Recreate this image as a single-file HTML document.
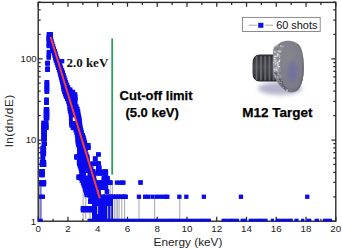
<!DOCTYPE html>
<html><head><meta charset="utf-8"><style>
html,body{margin:0;padding:0;background:#fff;width:342px;height:249px;overflow:hidden}
svg{display:block}
</style></head><body>
<svg width="342" height="249" viewBox="0 0 342 249">
<rect width="342" height="249" fill="#fff"/>
<!-- connecting lines -->
<path d="M85.7 193V219M108.2 185V199M110.2 185V199M112.3 185V199M114.3 199V219M116.1 199V219M117.7 199V219M119.1 199V219M121.8 199V219M124.6 199V219M139 199V219M154.7 199V219M179.8 199V219M102 177V181M83.1 190V219M39.6 186V219M90 212V219M98 205V219M106.5 205V219" stroke="#a4a4b4" stroke-width="1" fill="none"/>
<path d="M40.9 186V219" stroke="#4040d0" stroke-width="1.2" fill="none"/>
<clipPath id="pc"><rect x="38.2" y="2.4" width="297.60" height="218.80"/></clipPath>
<g fill="#0a0aee" clip-path="url(#pc)"><rect x="46.6" y="32.1" width="4.3" height="4.3"/><rect x="48.5" y="32.1" width="4.3" height="4.3"/><rect x="46.6" y="34.5" width="4.3" height="4.3"/><rect x="48.5" y="34.5" width="4.3" height="4.3"/><rect x="46.6" y="36.9" width="4.3" height="4.3"/><rect x="48.9" y="36.9" width="4.3" height="4.3"/><rect x="47.2" y="39.3" width="4.3" height="4.3"/><rect x="49.5" y="39.3" width="4.3" height="4.3"/><rect x="48.4" y="41.7" width="4.3" height="4.3"/><rect x="50.2" y="41.7" width="4.3" height="4.3"/><rect x="49.5" y="44.1" width="4.3" height="4.3"/><rect x="51.0" y="44.1" width="4.3" height="4.3"/><rect x="50.1" y="46.5" width="4.3" height="4.3"/><rect x="51.8" y="46.5" width="4.3" height="4.3"/><rect x="50.8" y="48.9" width="4.3" height="4.3"/><rect x="52.6" y="48.9" width="4.3" height="4.3"/><rect x="51.7" y="51.3" width="4.3" height="4.3"/><rect x="53.4" y="51.3" width="4.3" height="4.3"/><rect x="52.4" y="53.7" width="4.3" height="4.3"/><rect x="54.1" y="53.7" width="4.3" height="4.3"/><rect x="53.0" y="56.1" width="4.3" height="4.3"/><rect x="54.9" y="56.1" width="4.3" height="4.3"/><rect x="53.7" y="58.5" width="4.3" height="4.3"/><rect x="55.9" y="58.5" width="4.3" height="4.3"/><rect x="54.5" y="60.9" width="4.3" height="4.3"/><rect x="56.9" y="60.9" width="4.3" height="4.3"/><rect x="55.3" y="63.3" width="4.3" height="4.3"/><rect x="57.9" y="63.3" width="4.3" height="4.3"/><rect x="57.9" y="63.3" width="4.3" height="4.3"/><rect x="56.1" y="65.7" width="4.3" height="4.3"/><rect x="58.7" y="65.7" width="4.3" height="4.3"/><rect x="58.9" y="65.7" width="4.3" height="4.3"/><rect x="56.9" y="68.1" width="4.3" height="4.3"/><rect x="59.5" y="68.1" width="4.3" height="4.3"/><rect x="59.9" y="68.1" width="4.3" height="4.3"/><rect x="57.6" y="70.5" width="4.3" height="4.3"/><rect x="60.2" y="70.5" width="4.3" height="4.3"/><rect x="60.7" y="70.5" width="4.3" height="4.3"/><rect x="58.2" y="73.0" width="4.3" height="4.3"/><rect x="60.8" y="73.0" width="4.3" height="4.3"/><rect x="61.5" y="73.0" width="4.3" height="4.3"/><rect x="58.8" y="75.4" width="4.3" height="4.3"/><rect x="61.4" y="75.4" width="4.3" height="4.3"/><rect x="62.3" y="75.4" width="4.3" height="4.3"/><rect x="59.4" y="77.8" width="4.3" height="4.3"/><rect x="62.0" y="77.8" width="4.3" height="4.3"/><rect x="63.1" y="77.8" width="4.3" height="4.3"/><rect x="60.0" y="80.2" width="4.3" height="4.3"/><rect x="62.6" y="80.2" width="4.3" height="4.3"/><rect x="63.9" y="80.2" width="4.3" height="4.3"/><rect x="60.6" y="82.6" width="4.3" height="4.3"/><rect x="63.2" y="82.6" width="4.3" height="4.3"/><rect x="64.9" y="82.6" width="4.3" height="4.3"/><rect x="61.0" y="85.0" width="4.3" height="4.3"/><rect x="63.6" y="85.0" width="4.3" height="4.3"/><rect x="65.9" y="85.0" width="4.3" height="4.3"/><rect x="61.4" y="87.4" width="4.3" height="4.3"/><rect x="64.0" y="87.4" width="4.3" height="4.3"/><rect x="66.6" y="87.4" width="4.3" height="4.3"/><rect x="68.2" y="87.4" width="4.3" height="4.3"/><rect x="62.1" y="89.8" width="4.3" height="4.3"/><rect x="64.7" y="89.8" width="4.3" height="4.3"/><rect x="67.3" y="89.8" width="4.3" height="4.3"/><rect x="69.9" y="89.8" width="4.3" height="4.3"/><rect x="70.9" y="89.8" width="4.3" height="4.3"/><rect x="62.9" y="92.2" width="4.3" height="4.3"/><rect x="65.5" y="92.2" width="4.3" height="4.3"/><rect x="68.1" y="92.2" width="4.3" height="4.3"/><rect x="70.7" y="92.2" width="4.3" height="4.3"/><rect x="73.0" y="92.2" width="4.3" height="4.3"/><rect x="63.8" y="94.6" width="4.3" height="4.3"/><rect x="66.4" y="94.6" width="4.3" height="4.3"/><rect x="69.0" y="94.6" width="4.3" height="4.3"/><rect x="71.6" y="94.6" width="4.3" height="4.3"/><rect x="73.2" y="94.6" width="4.3" height="4.3"/><rect x="65.0" y="97.0" width="4.3" height="4.3"/><rect x="67.6" y="97.0" width="4.3" height="4.3"/><rect x="70.2" y="97.0" width="4.3" height="4.3"/><rect x="72.8" y="97.0" width="4.3" height="4.3"/><rect x="73.4" y="97.0" width="4.3" height="4.3"/><rect x="66.1" y="99.4" width="4.3" height="4.3"/><rect x="68.7" y="99.4" width="4.3" height="4.3"/><rect x="71.3" y="99.4" width="4.3" height="4.3"/><rect x="73.0" y="99.4" width="4.3" height="4.3"/><rect x="66.8" y="101.8" width="4.3" height="4.3"/><rect x="69.4" y="101.8" width="4.3" height="4.3"/><rect x="72.0" y="101.8" width="4.3" height="4.3"/><rect x="73.2" y="101.8" width="4.3" height="4.3"/><rect x="67.4" y="104.2" width="4.3" height="4.3"/><rect x="70.0" y="104.2" width="4.3" height="4.3"/><rect x="72.6" y="104.2" width="4.3" height="4.3"/><rect x="74.3" y="104.2" width="4.3" height="4.3"/><rect x="67.5" y="106.6" width="4.3" height="4.3"/><rect x="70.1" y="106.6" width="4.3" height="4.3"/><rect x="72.7" y="106.6" width="4.3" height="4.3"/><rect x="75.3" y="106.6" width="4.3" height="4.3"/><rect x="67.8" y="109.0" width="4.3" height="4.3"/><rect x="70.4" y="109.0" width="4.3" height="4.3"/><rect x="73.0" y="109.0" width="4.3" height="4.3"/><rect x="75.6" y="109.0" width="4.3" height="4.3"/><rect x="75.9" y="109.0" width="4.3" height="4.3"/><rect x="68.5" y="111.4" width="4.3" height="4.3"/><rect x="71.1" y="111.4" width="4.3" height="4.3"/><rect x="73.7" y="111.4" width="4.3" height="4.3"/><rect x="76.2" y="111.4" width="4.3" height="4.3"/><rect x="68.9" y="113.8" width="4.3" height="4.3"/><rect x="71.5" y="113.8" width="4.3" height="4.3"/><rect x="74.1" y="113.8" width="4.3" height="4.3"/><rect x="76.7" y="113.8" width="4.3" height="4.3"/><rect x="76.7" y="113.8" width="4.3" height="4.3"/><rect x="68.9" y="116.2" width="4.3" height="4.3"/><rect x="71.5" y="116.2" width="4.3" height="4.3"/><rect x="74.1" y="116.2" width="4.3" height="4.3"/><rect x="76.7" y="116.2" width="4.3" height="4.3"/><rect x="77.3" y="116.2" width="4.3" height="4.3"/><rect x="69.0" y="118.6" width="4.3" height="4.3"/><rect x="71.6" y="118.6" width="4.3" height="4.3"/><rect x="74.2" y="118.6" width="4.3" height="4.3"/><rect x="76.8" y="118.6" width="4.3" height="4.3"/><rect x="77.6" y="118.6" width="4.3" height="4.3"/><rect x="69.0" y="121.0" width="4.3" height="4.3"/><rect x="71.6" y="121.0" width="4.3" height="4.3"/><rect x="74.2" y="121.0" width="4.3" height="4.3"/><rect x="76.8" y="121.0" width="4.3" height="4.3"/><rect x="77.8" y="121.0" width="4.3" height="4.3"/><rect x="69.3" y="123.4" width="4.3" height="4.3"/><rect x="71.9" y="123.4" width="4.3" height="4.3"/><rect x="74.5" y="123.4" width="4.3" height="4.3"/><rect x="77.1" y="123.4" width="4.3" height="4.3"/><rect x="78.1" y="123.4" width="4.3" height="4.3"/><rect x="70.7" y="125.8" width="4.3" height="4.3"/><rect x="73.3" y="125.8" width="4.3" height="4.3"/><rect x="75.9" y="125.8" width="4.3" height="4.3"/><rect x="78.5" y="125.8" width="4.3" height="4.3"/><rect x="73.4" y="128.2" width="4.3" height="4.3"/><rect x="76.0" y="128.2" width="4.3" height="4.3"/><rect x="78.6" y="128.2" width="4.3" height="4.3"/><rect x="79.1" y="128.2" width="4.3" height="4.3"/><rect x="74.3" y="130.6" width="4.3" height="4.3"/><rect x="76.9" y="130.6" width="4.3" height="4.3"/><rect x="79.5" y="130.6" width="4.3" height="4.3"/><rect x="79.7" y="130.6" width="4.3" height="4.3"/><rect x="74.8" y="133.0" width="4.3" height="4.3"/><rect x="77.4" y="133.0" width="4.3" height="4.3"/><rect x="80.0" y="133.0" width="4.3" height="4.3"/><rect x="80.7" y="133.0" width="4.3" height="4.3"/><rect x="75.2" y="135.4" width="4.3" height="4.3"/><rect x="77.8" y="135.4" width="4.3" height="4.3"/><rect x="80.4" y="135.4" width="4.3" height="4.3"/><rect x="81.6" y="135.4" width="4.3" height="4.3"/><rect x="75.4" y="137.8" width="4.3" height="4.3"/><rect x="78.0" y="137.8" width="4.3" height="4.3"/><rect x="80.6" y="137.8" width="4.3" height="4.3"/><rect x="82.2" y="137.8" width="4.3" height="4.3"/><rect x="75.5" y="140.2" width="4.3" height="4.3"/><rect x="78.1" y="140.2" width="4.3" height="4.3"/><rect x="80.7" y="140.2" width="4.3" height="4.3"/><rect x="82.8" y="140.2" width="4.3" height="4.3"/><rect x="76.0" y="142.6" width="4.3" height="4.3"/><rect x="78.6" y="142.6" width="4.3" height="4.3"/><rect x="81.2" y="142.6" width="4.3" height="4.3"/><rect x="83.3" y="142.6" width="4.3" height="4.3"/><rect x="76.8" y="145.0" width="4.3" height="4.3"/><rect x="79.4" y="145.0" width="4.3" height="4.3"/><rect x="82.0" y="145.0" width="4.3" height="4.3"/><rect x="83.7" y="145.0" width="4.3" height="4.3"/><rect x="77.1" y="147.4" width="4.3" height="4.3"/><rect x="79.7" y="147.4" width="4.3" height="4.3"/><rect x="82.3" y="147.4" width="4.3" height="4.3"/><rect x="83.4" y="147.4" width="4.3" height="4.3"/><rect x="77.1" y="149.8" width="4.3" height="4.3"/><rect x="79.7" y="149.8" width="4.3" height="4.3"/><rect x="82.3" y="149.8" width="4.3" height="4.3"/><rect x="83.2" y="149.8" width="4.3" height="4.3"/><rect x="77.0" y="152.2" width="4.3" height="4.3"/><rect x="79.6" y="152.2" width="4.3" height="4.3"/><rect x="82.2" y="152.2" width="4.3" height="4.3"/><rect x="84.2" y="152.2" width="4.3" height="4.3"/><rect x="77.1" y="154.6" width="4.3" height="4.3"/><rect x="79.7" y="154.6" width="4.3" height="4.3"/><rect x="82.3" y="154.6" width="4.3" height="4.3"/><rect x="84.9" y="154.6" width="4.3" height="4.3"/><rect x="85.2" y="154.6" width="4.3" height="4.3"/><rect x="77.1" y="157.0" width="4.3" height="4.3"/><rect x="79.7" y="157.0" width="4.3" height="4.3"/><rect x="82.3" y="157.0" width="4.3" height="4.3"/><rect x="84.9" y="157.0" width="4.3" height="4.3"/><rect x="85.4" y="157.0" width="4.3" height="4.3"/><rect x="76.8" y="159.4" width="4.3" height="4.3"/><rect x="79.4" y="159.4" width="4.3" height="4.3"/><rect x="82.0" y="159.4" width="4.3" height="4.3"/><rect x="84.6" y="159.4" width="4.3" height="4.3"/><rect x="85.7" y="159.4" width="4.3" height="4.3"/><rect x="76.9" y="161.8" width="4.3" height="4.3"/><rect x="79.5" y="161.8" width="4.3" height="4.3"/><rect x="82.1" y="161.8" width="4.3" height="4.3"/><rect x="84.7" y="161.8" width="4.3" height="4.3"/><rect x="86.5" y="161.8" width="4.3" height="4.3"/><rect x="77.7" y="164.2" width="4.3" height="4.3"/><rect x="80.3" y="164.2" width="4.3" height="4.3"/><rect x="82.9" y="164.2" width="4.3" height="4.3"/><rect x="85.5" y="164.2" width="4.3" height="4.3"/><rect x="87.5" y="164.2" width="4.3" height="4.3"/><rect x="78.5" y="166.6" width="4.3" height="4.3"/><rect x="81.1" y="166.6" width="4.3" height="4.3"/><rect x="83.7" y="166.6" width="4.3" height="4.3"/><rect x="86.3" y="166.6" width="4.3" height="4.3"/><rect x="88.9" y="166.6" width="4.3" height="4.3"/><rect x="89.0" y="166.6" width="4.3" height="4.3"/><rect x="79.1" y="169.0" width="4.3" height="4.3"/><rect x="81.7" y="169.0" width="4.3" height="4.3"/><rect x="84.3" y="169.0" width="4.3" height="4.3"/><rect x="86.9" y="169.0" width="4.3" height="4.3"/><rect x="89.5" y="169.0" width="4.3" height="4.3"/><rect x="90.7" y="169.0" width="4.3" height="4.3"/><rect x="79.5" y="171.4" width="4.3" height="4.3"/><rect x="82.1" y="171.4" width="4.3" height="4.3"/><rect x="84.7" y="171.4" width="4.3" height="4.3"/><rect x="87.3" y="171.4" width="4.3" height="4.3"/><rect x="89.9" y="171.4" width="4.3" height="4.3"/><rect x="91.4" y="171.4" width="4.3" height="4.3"/><rect x="79.0" y="173.8" width="4.3" height="4.3"/><rect x="81.6" y="173.8" width="4.3" height="4.3"/><rect x="84.2" y="173.8" width="4.3" height="4.3"/><rect x="86.8" y="173.8" width="4.3" height="4.3"/><rect x="89.4" y="173.8" width="4.3" height="4.3"/><rect x="91.6" y="173.8" width="4.3" height="4.3"/><rect x="78.4" y="176.2" width="4.3" height="4.3"/><rect x="81.0" y="176.2" width="4.3" height="4.3"/><rect x="83.6" y="176.2" width="4.3" height="4.3"/><rect x="86.2" y="176.2" width="4.3" height="4.3"/><rect x="88.8" y="176.2" width="4.3" height="4.3"/><rect x="91.4" y="176.2" width="4.3" height="4.3"/><rect x="92.0" y="176.2" width="4.3" height="4.3"/><rect x="79.6" y="178.6" width="4.3" height="4.3"/><rect x="82.2" y="178.6" width="4.3" height="4.3"/><rect x="84.8" y="178.6" width="4.3" height="4.3"/><rect x="87.4" y="178.6" width="4.3" height="4.3"/><rect x="90.0" y="178.6" width="4.3" height="4.3"/><rect x="92.5" y="178.6" width="4.3" height="4.3"/><rect x="80.8" y="181.0" width="4.3" height="4.3"/><rect x="83.4" y="181.0" width="4.3" height="4.3"/><rect x="86.0" y="181.0" width="4.3" height="4.3"/><rect x="88.6" y="181.0" width="4.3" height="4.3"/><rect x="91.2" y="181.0" width="4.3" height="4.3"/><rect x="93.4" y="181.0" width="4.3" height="4.3"/><rect x="81.6" y="183.4" width="4.3" height="4.3"/><rect x="84.2" y="183.4" width="4.3" height="4.3"/><rect x="86.8" y="183.4" width="4.3" height="4.3"/><rect x="89.4" y="183.4" width="4.3" height="4.3"/><rect x="92.0" y="183.4" width="4.3" height="4.3"/><rect x="94.6" y="183.4" width="4.3" height="4.3"/><rect x="82.5" y="185.8" width="4.3" height="4.3"/><rect x="85.1" y="185.8" width="4.3" height="4.3"/><rect x="87.7" y="185.8" width="4.3" height="4.3"/><rect x="90.3" y="185.8" width="4.3" height="4.3"/><rect x="92.9" y="185.8" width="4.3" height="4.3"/><rect x="95.4" y="185.8" width="4.3" height="4.3"/><rect x="83.2" y="188.2" width="4.3" height="4.3"/><rect x="85.8" y="188.2" width="4.3" height="4.3"/><rect x="88.4" y="188.2" width="4.3" height="4.3"/><rect x="91.0" y="188.2" width="4.3" height="4.3"/><rect x="93.6" y="188.2" width="4.3" height="4.3"/><rect x="95.9" y="188.2" width="4.3" height="4.3"/><rect x="84.0" y="190.6" width="4.3" height="4.3"/><rect x="86.6" y="190.6" width="4.3" height="4.3"/><rect x="89.2" y="190.6" width="4.3" height="4.3"/><rect x="91.8" y="190.6" width="4.3" height="4.3"/><rect x="94.4" y="190.6" width="4.3" height="4.3"/><rect x="96.2" y="190.6" width="4.3" height="4.3"/><rect x="84.4" y="193.0" width="4.3" height="4.3"/><rect x="87.0" y="193.0" width="4.3" height="4.3"/><rect x="89.6" y="193.0" width="4.3" height="4.3"/><rect x="92.2" y="193.0" width="4.3" height="4.3"/><rect x="94.8" y="193.0" width="4.3" height="4.3"/><rect x="96.2" y="193.0" width="4.3" height="4.3"/><rect x="47.1" y="32.1" width="4.3" height="4.3"/><rect x="48.6" y="32.1" width="4.3" height="4.3"/><rect x="46.6" y="36.0" width="4.3" height="4.3"/><rect x="46.6" y="38.4" width="4.3" height="4.3"/><rect x="46.6" y="40.8" width="4.3" height="4.3"/><rect x="46.6" y="43.2" width="4.3" height="4.3"/><rect x="46.6" y="43.9" width="4.3" height="4.3"/><rect x="46.6" y="49.8" width="4.3" height="4.3"/><rect x="46.6" y="52.2" width="4.3" height="4.3"/><rect x="46.6" y="54.6" width="4.3" height="4.3"/><rect x="46.6" y="55.5" width="4.3" height="4.3"/><rect x="45.2" y="60.8" width="4.3" height="4.3"/><rect x="45.2" y="61.3" width="4.3" height="4.3"/><rect x="45.7" y="60.8" width="4.3" height="4.3"/><rect x="45.7" y="61.3" width="4.3" height="4.3"/><rect x="45.2" y="66.5" width="4.3" height="4.3"/><rect x="45.2" y="67.7" width="4.3" height="4.3"/><rect x="45.7" y="66.5" width="4.3" height="4.3"/><rect x="45.7" y="67.7" width="4.3" height="4.3"/><rect x="44.4" y="80.0" width="4.3" height="4.3"/><rect x="44.4" y="82.4" width="4.3" height="4.3"/><rect x="44.4" y="84.8" width="4.3" height="4.3"/><rect x="44.4" y="87.2" width="4.3" height="4.3"/><rect x="44.4" y="89.5" width="4.3" height="4.3"/><rect x="45.0" y="80.0" width="4.3" height="4.3"/><rect x="45.0" y="82.4" width="4.3" height="4.3"/><rect x="45.0" y="84.8" width="4.3" height="4.3"/><rect x="45.0" y="87.2" width="4.3" height="4.3"/><rect x="45.0" y="89.5" width="4.3" height="4.3"/><rect x="44.2" y="97.6" width="4.3" height="4.3"/><rect x="44.2" y="100.0" width="4.3" height="4.3"/><rect x="44.2" y="100.6" width="4.3" height="4.3"/><rect x="44.6" y="97.6" width="4.3" height="4.3"/><rect x="44.6" y="100.0" width="4.3" height="4.3"/><rect x="44.6" y="100.6" width="4.3" height="4.3"/><rect x="43.7" y="107.0" width="4.3" height="4.3"/><rect x="43.7" y="109.4" width="4.3" height="4.3"/><rect x="43.7" y="111.8" width="4.3" height="4.3"/><rect x="43.7" y="114.2" width="4.3" height="4.3"/><rect x="43.7" y="116.3" width="4.3" height="4.3"/><rect x="45.0" y="107.0" width="4.3" height="4.3"/><rect x="45.0" y="109.4" width="4.3" height="4.3"/><rect x="45.0" y="111.8" width="4.3" height="4.3"/><rect x="45.0" y="114.2" width="4.3" height="4.3"/><rect x="45.0" y="116.3" width="4.3" height="4.3"/><rect x="41.2" y="120.6" width="4.3" height="4.3"/><rect x="41.2" y="123.0" width="4.3" height="4.3"/><rect x="41.2" y="125.4" width="4.3" height="4.3"/><rect x="41.2" y="125.7" width="4.3" height="4.3"/><rect x="43.8" y="120.6" width="4.3" height="4.3"/><rect x="43.8" y="123.0" width="4.3" height="4.3"/><rect x="43.8" y="125.4" width="4.3" height="4.3"/><rect x="43.8" y="125.7" width="4.3" height="4.3"/><rect x="44.2" y="120.6" width="4.3" height="4.3"/><rect x="44.2" y="123.0" width="4.3" height="4.3"/><rect x="44.2" y="125.4" width="4.3" height="4.3"/><rect x="44.2" y="125.7" width="4.3" height="4.3"/><rect x="41.2" y="128.0" width="4.3" height="4.3"/><rect x="41.2" y="130.4" width="4.3" height="4.3"/><rect x="41.2" y="132.8" width="4.3" height="4.3"/><rect x="41.2" y="135.2" width="4.3" height="4.3"/><rect x="41.2" y="137.4" width="4.3" height="4.3"/><rect x="42.6" y="128.0" width="4.3" height="4.3"/><rect x="42.6" y="130.4" width="4.3" height="4.3"/><rect x="42.6" y="132.8" width="4.3" height="4.3"/><rect x="42.6" y="135.2" width="4.3" height="4.3"/><rect x="42.6" y="137.4" width="4.3" height="4.3"/><rect x="41.5" y="141.7" width="4.3" height="4.3"/><rect x="42.7" y="141.7" width="4.3" height="4.3"/><rect x="40.4" y="145.7" width="4.3" height="4.3"/><rect x="40.4" y="148.1" width="4.3" height="4.3"/><rect x="40.4" y="150.5" width="4.3" height="4.3"/><rect x="40.4" y="151.9" width="4.3" height="4.3"/><rect x="41.8" y="145.7" width="4.3" height="4.3"/><rect x="41.8" y="148.1" width="4.3" height="4.3"/><rect x="41.8" y="150.5" width="4.3" height="4.3"/><rect x="41.8" y="151.9" width="4.3" height="4.3"/><rect x="40.4" y="155.9" width="4.3" height="4.3"/><rect x="41.0" y="155.9" width="4.3" height="4.3"/><rect x="39.8" y="160.0" width="4.3" height="4.3"/><rect x="39.8" y="162.4" width="4.3" height="4.3"/><rect x="39.8" y="162.7" width="4.3" height="4.3"/><rect x="41.9" y="160.0" width="4.3" height="4.3"/><rect x="41.9" y="162.4" width="4.3" height="4.3"/><rect x="41.9" y="162.7" width="4.3" height="4.3"/><rect x="39.1" y="169.0" width="4.3" height="4.3"/><rect x="39.1" y="171.4" width="4.3" height="4.3"/><rect x="39.1" y="173.0" width="4.3" height="4.3"/><rect x="40.6" y="169.0" width="4.3" height="4.3"/><rect x="40.6" y="171.4" width="4.3" height="4.3"/><rect x="40.6" y="173.0" width="4.3" height="4.3"/><rect x="39.1" y="180.0" width="4.3" height="4.3"/><rect x="39.1" y="182.0" width="4.3" height="4.3"/><rect x="41.7" y="180.0" width="4.3" height="4.3"/><rect x="41.7" y="182.0" width="4.3" height="4.3"/><rect x="41.9" y="180.0" width="4.3" height="4.3"/><rect x="41.9" y="182.0" width="4.3" height="4.3"/><rect x="38.8" y="194.6" width="4.3" height="4.3"/><rect x="40.7" y="194.6" width="4.3" height="4.3"/><rect x="86.3" y="143.0" width="4.3" height="4.3"/><rect x="86.3" y="145.4" width="4.3" height="4.3"/><rect x="86.3" y="145.7" width="4.3" height="4.3"/><rect x="96.0" y="152.3" width="4.3" height="4.3"/><rect x="96.6" y="152.3" width="4.3" height="4.3"/><rect x="92.9" y="156.6" width="4.3" height="4.3"/><rect x="92.9" y="156.7" width="4.3" height="4.3"/><rect x="93.2" y="156.6" width="4.3" height="4.3"/><rect x="93.2" y="156.7" width="4.3" height="4.3"/><rect x="90.4" y="161.3" width="4.3" height="4.3"/><rect x="90.4" y="161.8" width="4.3" height="4.3"/><rect x="93.0" y="161.3" width="4.3" height="4.3"/><rect x="93.0" y="161.8" width="4.3" height="4.3"/><rect x="95.6" y="161.3" width="4.3" height="4.3"/><rect x="95.6" y="161.8" width="4.3" height="4.3"/><rect x="96.6" y="161.3" width="4.3" height="4.3"/><rect x="96.6" y="161.8" width="4.3" height="4.3"/><rect x="96.0" y="165.5" width="4.3" height="4.3"/><rect x="97.4" y="165.5" width="4.3" height="4.3"/><rect x="95.3" y="169.3" width="4.3" height="4.3"/><rect x="95.3" y="171.5" width="4.3" height="4.3"/><rect x="97.9" y="169.3" width="4.3" height="4.3"/><rect x="97.9" y="171.5" width="4.3" height="4.3"/><rect x="100.5" y="169.3" width="4.3" height="4.3"/><rect x="100.5" y="171.5" width="4.3" height="4.3"/><rect x="103.1" y="169.3" width="4.3" height="4.3"/><rect x="103.1" y="171.5" width="4.3" height="4.3"/><rect x="103.8" y="169.3" width="4.3" height="4.3"/><rect x="103.8" y="171.5" width="4.3" height="4.3"/><rect x="101.7" y="175.8" width="4.3" height="4.3"/><rect x="101.7" y="176.3" width="4.3" height="4.3"/><rect x="104.3" y="175.8" width="4.3" height="4.3"/><rect x="104.3" y="176.3" width="4.3" height="4.3"/><rect x="105.4" y="175.8" width="4.3" height="4.3"/><rect x="105.4" y="176.3" width="4.3" height="4.3"/><rect x="96.2" y="180.2" width="4.3" height="4.3"/><rect x="96.2" y="180.7" width="4.3" height="4.3"/><rect x="98.8" y="180.2" width="4.3" height="4.3"/><rect x="98.8" y="180.7" width="4.3" height="4.3"/><rect x="101.4" y="180.2" width="4.3" height="4.3"/><rect x="101.4" y="180.7" width="4.3" height="4.3"/><rect x="104.0" y="180.2" width="4.3" height="4.3"/><rect x="104.0" y="180.7" width="4.3" height="4.3"/><rect x="106.6" y="180.2" width="4.3" height="4.3"/><rect x="106.6" y="180.7" width="4.3" height="4.3"/><rect x="108.3" y="180.2" width="4.3" height="4.3"/><rect x="108.3" y="180.7" width="4.3" height="4.3"/><rect x="114.8" y="180.5" width="4.3" height="4.3"/><rect x="117.4" y="180.5" width="4.3" height="4.3"/><rect x="120.0" y="180.5" width="4.3" height="4.3"/><rect x="121.3" y="180.5" width="4.3" height="4.3"/><rect x="96.2" y="185.0" width="4.3" height="4.3"/><rect x="96.2" y="185.2" width="4.3" height="4.3"/><rect x="96.4" y="185.0" width="4.3" height="4.3"/><rect x="96.4" y="185.2" width="4.3" height="4.3"/><rect x="104.7" y="189.4" width="4.3" height="4.3"/><rect x="104.9" y="189.4" width="4.3" height="4.3"/><rect x="94.0" y="189.5" width="4.3" height="4.3"/><rect x="94.0" y="191.9" width="4.3" height="4.3"/><rect x="94.0" y="194.2" width="4.3" height="4.3"/><rect x="96.4" y="189.5" width="4.3" height="4.3"/><rect x="96.4" y="191.9" width="4.3" height="4.3"/><rect x="96.4" y="194.2" width="4.3" height="4.3"/><rect x="100.7" y="194.6" width="4.3" height="4.3"/><rect x="100.7" y="194.7" width="4.3" height="4.3"/><rect x="103.3" y="194.6" width="4.3" height="4.3"/><rect x="103.3" y="194.7" width="4.3" height="4.3"/><rect x="105.9" y="194.6" width="4.3" height="4.3"/><rect x="105.9" y="194.7" width="4.3" height="4.3"/><rect x="108.5" y="194.6" width="4.3" height="4.3"/><rect x="108.5" y="194.7" width="4.3" height="4.3"/><rect x="111.1" y="194.6" width="4.3" height="4.3"/><rect x="111.1" y="194.7" width="4.3" height="4.3"/><rect x="113.7" y="194.6" width="4.3" height="4.3"/><rect x="113.7" y="194.7" width="4.3" height="4.3"/><rect x="116.3" y="194.6" width="4.3" height="4.3"/><rect x="116.3" y="194.7" width="4.3" height="4.3"/><rect x="118.9" y="194.6" width="4.3" height="4.3"/><rect x="118.9" y="194.7" width="4.3" height="4.3"/><rect x="121.5" y="194.6" width="4.3" height="4.3"/><rect x="121.5" y="194.7" width="4.3" height="4.3"/><rect x="123.4" y="194.6" width="4.3" height="4.3"/><rect x="123.4" y="194.7" width="4.3" height="4.3"/><rect x="92.0" y="196.0" width="4.3" height="4.3"/><rect x="92.0" y="198.4" width="4.3" height="4.3"/><rect x="92.0" y="200.8" width="4.3" height="4.3"/><rect x="92.0" y="203.2" width="4.3" height="4.3"/><rect x="92.0" y="205.6" width="4.3" height="4.3"/><rect x="92.0" y="208.0" width="4.3" height="4.3"/><rect x="92.0" y="210.4" width="4.3" height="4.3"/><rect x="92.0" y="212.8" width="4.3" height="4.3"/><rect x="92.0" y="215.2" width="4.3" height="4.3"/><rect x="94.6" y="196.0" width="4.3" height="4.3"/><rect x="94.6" y="198.4" width="4.3" height="4.3"/><rect x="94.6" y="200.8" width="4.3" height="4.3"/><rect x="94.6" y="203.2" width="4.3" height="4.3"/><rect x="94.6" y="205.6" width="4.3" height="4.3"/><rect x="94.6" y="208.0" width="4.3" height="4.3"/><rect x="94.6" y="210.4" width="4.3" height="4.3"/><rect x="94.6" y="212.8" width="4.3" height="4.3"/><rect x="94.6" y="215.2" width="4.3" height="4.3"/><rect x="97.2" y="196.0" width="4.3" height="4.3"/><rect x="97.2" y="198.4" width="4.3" height="4.3"/><rect x="97.2" y="200.8" width="4.3" height="4.3"/><rect x="97.2" y="203.2" width="4.3" height="4.3"/><rect x="97.2" y="205.6" width="4.3" height="4.3"/><rect x="97.2" y="208.0" width="4.3" height="4.3"/><rect x="97.2" y="210.4" width="4.3" height="4.3"/><rect x="97.2" y="212.8" width="4.3" height="4.3"/><rect x="97.2" y="215.2" width="4.3" height="4.3"/><rect x="99.8" y="196.0" width="4.3" height="4.3"/><rect x="99.8" y="198.4" width="4.3" height="4.3"/><rect x="99.8" y="200.8" width="4.3" height="4.3"/><rect x="99.8" y="203.2" width="4.3" height="4.3"/><rect x="99.8" y="205.6" width="4.3" height="4.3"/><rect x="99.8" y="208.0" width="4.3" height="4.3"/><rect x="99.8" y="210.4" width="4.3" height="4.3"/><rect x="99.8" y="212.8" width="4.3" height="4.3"/><rect x="99.8" y="215.2" width="4.3" height="4.3"/><rect x="102.4" y="196.0" width="4.3" height="4.3"/><rect x="102.4" y="198.4" width="4.3" height="4.3"/><rect x="102.4" y="200.8" width="4.3" height="4.3"/><rect x="102.4" y="203.2" width="4.3" height="4.3"/><rect x="102.4" y="205.6" width="4.3" height="4.3"/><rect x="102.4" y="208.0" width="4.3" height="4.3"/><rect x="102.4" y="210.4" width="4.3" height="4.3"/><rect x="102.4" y="212.8" width="4.3" height="4.3"/><rect x="102.4" y="215.2" width="4.3" height="4.3"/><rect x="105.0" y="196.0" width="4.3" height="4.3"/><rect x="105.0" y="198.4" width="4.3" height="4.3"/><rect x="105.0" y="200.8" width="4.3" height="4.3"/><rect x="105.0" y="203.2" width="4.3" height="4.3"/><rect x="105.0" y="205.6" width="4.3" height="4.3"/><rect x="105.0" y="208.0" width="4.3" height="4.3"/><rect x="105.0" y="210.4" width="4.3" height="4.3"/><rect x="105.0" y="212.8" width="4.3" height="4.3"/><rect x="105.0" y="215.2" width="4.3" height="4.3"/><rect x="107.6" y="196.0" width="4.3" height="4.3"/><rect x="107.6" y="198.4" width="4.3" height="4.3"/><rect x="107.6" y="200.8" width="4.3" height="4.3"/><rect x="107.6" y="203.2" width="4.3" height="4.3"/><rect x="107.6" y="205.6" width="4.3" height="4.3"/><rect x="107.6" y="208.0" width="4.3" height="4.3"/><rect x="107.6" y="210.4" width="4.3" height="4.3"/><rect x="107.6" y="212.8" width="4.3" height="4.3"/><rect x="107.6" y="215.2" width="4.3" height="4.3"/><rect x="108.7" y="196.0" width="4.3" height="4.3"/><rect x="108.7" y="198.4" width="4.3" height="4.3"/><rect x="108.7" y="200.8" width="4.3" height="4.3"/><rect x="108.7" y="203.2" width="4.3" height="4.3"/><rect x="108.7" y="205.6" width="4.3" height="4.3"/><rect x="108.7" y="208.0" width="4.3" height="4.3"/><rect x="108.7" y="210.4" width="4.3" height="4.3"/><rect x="108.7" y="212.8" width="4.3" height="4.3"/><rect x="108.7" y="215.2" width="4.3" height="4.3"/><rect x="88.2" y="197.0" width="4.3" height="4.3"/><rect x="88.2" y="199.4" width="4.3" height="4.3"/><rect x="88.2" y="199.7" width="4.3" height="4.3"/><rect x="90.7" y="197.0" width="4.3" height="4.3"/><rect x="90.7" y="199.4" width="4.3" height="4.3"/><rect x="90.7" y="199.7" width="4.3" height="4.3"/><rect x="80.7" y="206.0" width="4.3" height="4.3"/><rect x="80.7" y="208.1" width="4.3" height="4.3"/><rect x="83.3" y="206.0" width="4.3" height="4.3"/><rect x="83.3" y="208.1" width="4.3" height="4.3"/><rect x="85.9" y="206.0" width="4.3" height="4.3"/><rect x="85.9" y="208.1" width="4.3" height="4.3"/><rect x="88.5" y="206.0" width="4.3" height="4.3"/><rect x="88.5" y="208.1" width="4.3" height="4.3"/><rect x="91.1" y="206.0" width="4.3" height="4.3"/><rect x="91.1" y="208.1" width="4.3" height="4.3"/><rect x="92.2" y="206.0" width="4.3" height="4.3"/><rect x="92.2" y="208.1" width="4.3" height="4.3"/><rect x="99.0" y="185.0" width="4.3" height="4.3"/><rect x="99.0" y="185.7" width="4.3" height="4.3"/><rect x="101.6" y="185.0" width="4.3" height="4.3"/><rect x="101.6" y="185.7" width="4.3" height="4.3"/><rect x="103.7" y="185.0" width="4.3" height="4.3"/><rect x="103.7" y="185.7" width="4.3" height="4.3"/><rect x="74.2" y="154.3" width="4.3" height="4.3"/><rect x="74.2" y="155.4" width="4.3" height="4.3"/><rect x="75.3" y="154.3" width="4.3" height="4.3"/><rect x="75.3" y="155.4" width="4.3" height="4.3"/><rect x="76.6" y="174.5" width="4.3" height="4.3"/><rect x="76.6" y="175.7" width="4.3" height="4.3"/><rect x="76.7" y="174.5" width="4.3" height="4.3"/><rect x="76.7" y="175.7" width="4.3" height="4.3"/><rect x="60.0" y="59.0" width="4.3" height="4.3"/><rect x="138.4" y="180.3" width="4.3" height="4.3"/><rect x="138.4" y="180.4" width="4.3" height="4.3"/><rect x="136.8" y="194.6" width="4.3" height="4.3"/><rect x="143.0" y="194.6" width="4.3" height="4.3"/><rect x="146.0" y="194.6" width="4.3" height="4.3"/><rect x="150.4" y="194.6" width="4.3" height="4.3"/><rect x="154.7" y="194.6" width="4.3" height="4.3"/><rect x="159.0" y="194.6" width="4.3" height="4.3"/><rect x="162.8" y="194.6" width="4.3" height="4.3"/><rect x="165.2" y="194.6" width="4.3" height="4.3"/><rect x="177.2" y="194.6" width="4.3" height="4.3"/><rect x="184.2" y="194.6" width="4.3" height="4.3"/><rect x="201.7" y="194.6" width="4.3" height="4.3"/><rect x="238.8" y="194.6" width="4.3" height="4.3"/><rect x="305.1" y="194.6" width="4.3" height="4.3"/></g>
<g fill="#fff"><rect x="72.8" y="117.4" width="2.6" height="3.6"/><rect x="86" y="173" width="1.5" height="2.5"/></g>
<path d="M97.6 206V214M107.7 206V219M110.8 206V219M86 197V204M98 190V194" stroke="#c4c4d4" stroke-width="1" fill="none"/>
<!-- red fit line -->
<line x1="50.6" y1="37" x2="99.8" y2="198.4" stroke="#ff4028" stroke-width="1.9"/>
<!-- green cutoff -->
<line x1="112.2" y1="38.4" x2="112.2" y2="174.6" stroke="#2f9d5f" stroke-width="1.8"/>
<!-- axes -->
<rect x="38.2" y="2.4" width="297.60" height="218.80" fill="none" stroke="#2a2a2e" stroke-width="1.4"/>
<path d="M38.20 221.20v-4.4M38.20 2.40v4.4M53.08 221.20v-2.5M53.08 2.40v2.5M67.96 221.20v-4.4M67.96 2.40v4.4M82.84 221.20v-2.5M82.84 2.40v2.5M97.72 221.20v-4.4M97.72 2.40v4.4M112.60 221.20v-2.5M112.60 2.40v2.5M127.48 221.20v-4.4M127.48 2.40v4.4M142.36 221.20v-2.5M142.36 2.40v2.5M157.24 221.20v-4.4M157.24 2.40v4.4M172.12 221.20v-2.5M172.12 2.40v2.5M187.00 221.20v-4.4M187.00 2.40v4.4M201.88 221.20v-2.5M201.88 2.40v2.5M216.76 221.20v-4.4M216.76 2.40v4.4M231.64 221.20v-2.5M231.64 2.40v2.5M246.52 221.20v-4.4M246.52 2.40v4.4M261.40 221.20v-2.5M261.40 2.40v2.5M276.28 221.20v-4.4M276.28 2.40v4.4M291.16 221.20v-2.5M291.16 2.40v2.5M306.04 221.20v-4.4M306.04 2.40v4.4M320.92 221.20v-2.5M320.92 2.40v2.5M335.80 221.20v-4.4M335.80 2.40v4.4M38.20 221.20h4.4M335.80 221.20h-4.4M38.20 196.76h2.5M335.80 196.76h-2.5M38.20 182.46h2.5M335.80 182.46h-2.5M38.20 172.31h2.5M335.80 172.31h-2.5M38.20 164.44h2.5M335.80 164.44h-2.5M38.20 158.01h2.5M335.80 158.01h-2.5M38.20 152.58h2.5M335.80 152.58h-2.5M38.20 147.87h2.5M335.80 147.87h-2.5M38.20 143.72h2.5M335.80 143.72h-2.5M38.20 140.00h4.4M335.80 140.00h-4.4M38.20 115.56h2.5M335.80 115.56h-2.5M38.20 101.26h2.5M335.80 101.26h-2.5M38.20 91.11h2.5M335.80 91.11h-2.5M38.20 83.24h2.5M335.80 83.24h-2.5M38.20 76.81h2.5M335.80 76.81h-2.5M38.20 71.38h2.5M335.80 71.38h-2.5M38.20 66.67h2.5M335.80 66.67h-2.5M38.20 62.52h2.5M335.80 62.52h-2.5M38.20 58.80h4.4M335.80 58.80h-4.4M38.20 34.36h2.5M335.80 34.36h-2.5M38.20 20.06h2.5M335.80 20.06h-2.5M38.20 9.91h2.5M335.80 9.91h-2.5M38.20 2.04h2.5M335.80 2.04h-2.5" stroke="#2a2a2e" stroke-width="1.25" fill="none"/>
<g fill="#0a0aee"><rect x="38.2" y="218.7" width="4.6" height="2.8"/><rect x="87.5" y="218.7" width="123.5" height="2.8"/><rect x="221.5" y="218.7" width="17.5" height="2.8"/><rect x="240.6" y="218.7" width="6.4" height="2.8"/><rect x="248.6" y="218.7" width="19.0" height="2.8"/><rect x="270.8" y="218.7" width="3.2" height="2.8"/><rect x="275.6" y="218.7" width="17.2" height="2.8"/><rect x="294.4" y="218.7" width="4.2" height="2.8"/><rect x="301.0" y="218.7" width="3.4" height="2.8"/><rect x="306.4" y="218.7" width="4.9" height="2.8"/><rect x="314.6" y="218.7" width="4.4" height="2.8"/><rect x="322.8" y="218.7" width="9.2" height="2.8"/></g>
<g font-family="Liberation Sans" font-size="9.8" fill="#1a1a1a" text-anchor="middle"><text x="38.2" y="231.5">0</text><text x="68.0" y="231.5">2</text><text x="97.7" y="231.5">4</text><text x="127.5" y="231.5">6</text><text x="157.2" y="231.5">8</text><text x="187.0" y="231.5">10</text><text x="216.8" y="231.5">12</text><text x="246.5" y="231.5">14</text><text x="276.3" y="231.5">16</text><text x="306.0" y="231.5">18</text><text x="335.8" y="231.5">20</text></g>
<g font-family="Liberation Sans" font-size="9.6" fill="#1a1a1a" text-anchor="end">
<text x="36.6" y="62.2">100</text><text x="36.4" y="143.3">10</text><text x="36" y="224.8">1</text>
</g>
<text x="188" y="246" font-family="Liberation Sans" font-size="11.8" fill="#222" text-anchor="middle">Energy (keV)</text>
<text transform="translate(12.6,120.6) rotate(-90)" font-family="Liberation Sans" font-size="11.8" letter-spacing="0.55" fill="#222" text-anchor="middle">ln(dn/dE)</text>
<!-- legend -->
<rect x="242.4" y="17.4" width="77.8" height="14.1" fill="#fff" stroke="#808080" stroke-width="0.9"/>
<path d="M248.8 25.2h8M265 25.2h8" stroke="#a8a8a8" stroke-width="1"/>
<rect x="258.2" y="22.8" width="5.2" height="5" fill="#1010e8"/>
<text x="276.2" y="29.3" font-family="Liberation Sans" font-size="10.9" fill="#111">60 shots</text>
<!-- annotations -->
<text x="66.4" y="67.4" font-family="Liberation Serif" font-weight="bold" font-size="13" fill="#111">2.0 keV</text>
<text x="119.6" y="99.6" font-family="Liberation Sans" font-weight="bold" font-size="13" fill="#000" stroke="#000" stroke-width="0.25">Cut-off limit</text>
<text x="125.4" y="117.3" font-family="Liberation Sans" font-weight="bold" font-size="13" fill="#000" stroke="#000" stroke-width="0.25">(5.0 keV)</text>
<text x="242.3" y="117" font-family="Liberation Sans" font-weight="bold" font-size="13.5" fill="#000" stroke="#000" stroke-width="0.25">M12 Target</text>
<!-- bolt -->
<defs><filter id="bl1" x="-20%" y="-20%" width="140%" height="140%"><feGaussianBlur stdDeviation="0.45"/></filter><filter id="bl2" x="-30%" y="-60%" width="160%" height="220%"><feGaussianBlur stdDeviation="2.3"/></filter><filter id="bl3" x="-50%" y="-50%" width="200%" height="200%"><feGaussianBlur stdDeviation="2.2"/></filter><linearGradient id="thr" x1="0" y1="0" x2="0" y2="1"><stop offset="0" stop-color="#2e2e34"/><stop offset="0.45" stop-color="#48484f"/><stop offset="0.75" stop-color="#3a3a41"/><stop offset="1" stop-color="#26262c"/></linearGradient><linearGradient id="hd" x1="0" y1="0" x2="0" y2="1"><stop offset="0" stop-color="#80808a"/><stop offset="0.45" stop-color="#9a9aa2"/><stop offset="1" stop-color="#72727c"/></linearGradient><radialGradient id="fc" cx="0.4" cy="0.35" r="0.75"><stop offset="0" stop-color="#86868e"/><stop offset="0.7" stop-color="#7e7e88"/><stop offset="1" stop-color="#6a6a74"/></radialGradient></defs><ellipse cx="280" cy="88.5" rx="22" ry="6.5" fill="#b6b4cc" filter="url(#bl2)"/><g filter="url(#bl1)"><path d="M260 54.5 H279 V81.5 H260 Q252.5 81.5 252.5 73 V63 Q252.5 54.5 260 54.5 Z" fill="url(#thr)"/><rect x="255.6" y="56" width="1.9" height="24.5" rx="0.9" fill="#6e6e76" opacity="0.85"/><rect x="260.0" y="56" width="1.9" height="24.5" rx="0.9" fill="#6e6e76" opacity="0.85"/><rect x="264.3" y="56" width="1.9" height="24.5" rx="0.9" fill="#6e6e76" opacity="0.85"/><rect x="268.5" y="56" width="1.9" height="24.5" rx="0.9" fill="#6e6e76" opacity="0.85"/><rect x="272.6" y="56" width="1.9" height="24.5" rx="0.9" fill="#6e6e76" opacity="0.85"/><path d="M273.3 49 C276 45 280 42 285 41 C291 40.3 297 42 300 46 C303 51 304 60 303.8 68 C303.6 76 302.5 84 298.5 89 C295.5 92.5 291.5 93.2 288 91.8 C283 89.5 279 85.5 276.5 81 C274 77 273 73 273 68 C273 60 272.8 53 273.3 49 Z" fill="url(#hd)"/><rect x="277.2" y="65.4" width="1.2" height="1.2" fill="#c0c0c8"/><rect x="274.6" y="71.4" width="1.2" height="1.3" fill="#60606a"/><rect x="277.2" y="53.4" width="0.9" height="1.4" fill="#fafafc"/><rect x="273.8" y="76.2" width="1.6" height="1.3" fill="#62626c"/><rect x="274.4" y="72.7" width="1.5" height="0.9" fill="#4c4c56"/><rect x="283.5" y="46.6" width="0.8" height="1.2" fill="#d0d0d8"/><rect x="279.1" y="64.8" width="1.0" height="1.0" fill="#60606a"/><rect x="274.4" y="45.2" width="1.1" height="1.2" fill="#b8b8c0"/><rect x="283.3" y="86.9" width="1.1" height="1.0" fill="#b8b8c0"/><rect x="273.8" y="58.0" width="0.9" height="0.9" fill="#c0c0c8"/><rect x="273.8" y="58.1" width="1.5" height="0.8" fill="#f0f0f4"/><rect x="280.9" y="54.4" width="1.1" height="1.4" fill="#dcdce4"/><rect x="277.3" y="63.9" width="1.4" height="1.0" fill="#fafafc"/><rect x="276.7" y="48.9" width="1.4" height="0.9" fill="#62626c"/><rect x="274.1" y="56.1" width="1.2" height="1.2" fill="#f0f0f4"/><rect x="274.7" y="75.7" width="1.0" height="1.4" fill="#d0d0d8"/><rect x="279.4" y="50.9" width="1.1" height="1.6" fill="#f0f0f4"/><rect x="284.2" y="45.0" width="1.0" height="1.5" fill="#d0d0d8"/><rect x="276.6" y="54.5" width="1.3" height="1.3" fill="#c0c0c8"/><rect x="275.0" y="46.9" width="1.0" height="1.4" fill="#62626c"/><rect x="275.5" y="59.8" width="0.9" height="1.0" fill="#f0f0f4"/><rect x="273.4" y="73.6" width="1.1" height="1.2" fill="#b8b8c0"/><rect x="284.9" y="88.2" width="0.9" height="1.1" fill="#d0d0d8"/><rect x="275.6" y="73.2" width="1.5" height="1.0" fill="#5a5a64"/><rect x="279.7" y="53.5" width="1.0" height="1.6" fill="#60606a"/><rect x="282.6" y="84.7" width="0.8" height="0.9" fill="#62626c"/><rect x="275.1" y="68.1" width="1.4" height="1.0" fill="#74747c"/><rect x="281.0" y="82.1" width="1.2" height="1.5" fill="#b8b8c0"/><rect x="285.1" y="89.0" width="1.2" height="1.5" fill="#62626c"/><rect x="275.3" y="72.6" width="1.4" height="0.9" fill="#5a5a64"/><rect x="275.0" y="63.5" width="0.9" height="1.1" fill="#f0f0f4"/><rect x="274.2" y="70.7" width="0.9" height="1.2" fill="#ffffff"/><rect x="278.7" y="59.9" width="1.3" height="0.9" fill="#60606a"/><rect x="273.5" y="46.6" width="1.4" height="1.6" fill="#b8b8c0"/><rect x="280.9" y="46.0" width="0.9" height="1.0" fill="#62626c"/><rect x="274.0" y="51.1" width="1.2" height="1.4" fill="#dcdce4"/><rect x="283.5" y="85.5" width="1.4" height="1.5" fill="#5a5a64"/><rect x="278.3" y="60.8" width="1.5" height="1.1" fill="#f0f0f4"/><rect x="281.4" y="80.6" width="0.8" height="1.3" fill="#d0d0d8"/><rect x="273.4" y="62.1" width="0.9" height="1.3" fill="#f0f0f4"/><rect x="286.8" y="89.7" width="1.1" height="1.4" fill="#b8b8c0"/><rect x="276.4" y="71.1" width="1.2" height="1.2" fill="#c0c0c8"/><rect x="275.4" y="68.2" width="1.2" height="1.0" fill="#f0f0f4"/><rect x="277.4" y="76.4" width="1.3" height="1.2" fill="#d0d0d8"/><rect x="282.5" y="85.3" width="1.3" height="1.0" fill="#5a5a64"/><rect x="281.4" y="52.6" width="1.5" height="1.2" fill="#74747c"/><rect x="276.6" y="55.9" width="1.0" height="1.1" fill="#ffffff"/><rect x="281.9" y="81.3" width="1.1" height="1.3" fill="#5a5a64"/><rect x="274.3" y="59.2" width="1.1" height="1.5" fill="#dcdce4"/><rect x="274.0" y="46.8" width="1.5" height="0.9" fill="#b8b8c0"/><rect x="279.7" y="66.2" width="1.1" height="1.3" fill="#c0c0c8"/><rect x="275.5" y="67.2" width="1.5" height="1.3" fill="#c0c0c8"/><rect x="279.4" y="59.4" width="1.5" height="0.8" fill="#ffffff"/><rect x="278.1" y="76.9" width="1.3" height="1.3" fill="#b8b8c0"/><rect x="276.3" y="73.8" width="0.8" height="1.5" fill="#5a5a64"/><rect x="274.4" y="55.7" width="1.6" height="0.9" fill="#f0f0f4"/><rect x="278.6" y="49.9" width="1.6" height="1.3" fill="#b8b8c0"/><rect x="277.3" y="54.0" width="1.4" height="1.4" fill="#fafafc"/><rect x="273.6" y="69.1" width="1.0" height="1.1" fill="#fafafc"/><rect x="277.5" y="76.4" width="1.6" height="0.9" fill="#d0d0d8"/><rect x="282.0" y="83.2" width="0.9" height="1.5" fill="#5a5a64"/><rect x="275.5" y="77.5" width="1.0" height="1.5" fill="#62626c"/><rect x="280.1" y="45.3" width="1.4" height="1.6" fill="#d0d0d8"/><rect x="277.8" y="65.9" width="0.9" height="1.5" fill="#fafafc"/><rect x="281.9" y="80.9" width="1.0" height="1.5" fill="#4c4c56"/><rect x="286.4" y="89.1" width="1.6" height="1.5" fill="#d0d0d8"/><rect x="278.9" y="56.8" width="1.1" height="0.9" fill="#f0f0f4"/><rect x="277.1" y="64.8" width="1.0" height="1.5" fill="#c0c0c8"/><rect x="280.5" y="54.8" width="1.4" height="0.9" fill="#dcdce4"/><rect x="279.1" y="60.1" width="1.2" height="1.6" fill="#fafafc"/><rect x="283.0" y="85.5" width="1.6" height="1.2" fill="#62626c"/><rect x="284.0" y="87.7" width="1.2" height="1.2" fill="#5a5a64"/><rect x="281.1" y="82.4" width="1.2" height="1.5" fill="#5a5a64"/><rect x="275.5" y="70.2" width="1.6" height="1.5" fill="#dcdce4"/><rect x="275.5" y="72.4" width="1.6" height="1.2" fill="#5a5a64"/><rect x="274.7" y="70.8" width="0.9" height="0.8" fill="#60606a"/><rect x="277.1" y="62.0" width="1.2" height="1.1" fill="#f0f0f4"/><rect x="280.3" y="81.0" width="0.9" height="0.9" fill="#62626c"/><rect x="283.9" y="86.9" width="1.0" height="1.2" fill="#62626c"/><rect x="277.5" y="50.7" width="1.5" height="1.5" fill="#c0c0c8"/><rect x="274.1" y="68.6" width="1.3" height="1.5" fill="#dcdce4"/><rect x="280.7" y="50.8" width="0.8" height="0.9" fill="#f0f0f4"/><rect x="276.8" y="45.5" width="1.0" height="1.2" fill="#b8b8c0"/><rect x="277.3" y="67.5" width="1.2" height="1.0" fill="#c0c0c8"/><rect x="277.8" y="53.9" width="0.8" height="1.3" fill="#dcdce4"/><rect x="281.1" y="82.1" width="1.0" height="1.3" fill="#d0d0d8"/><rect x="277.2" y="73.7" width="1.3" height="1.5" fill="#d0d0d8"/><rect x="279.3" y="55.5" width="1.1" height="0.9" fill="#c0c0c8"/><rect x="279.7" y="72.1" width="1.0" height="1.6" fill="#5a5a64"/><rect x="281.7" y="84.9" width="0.9" height="0.9" fill="#5a5a64"/><rect x="276.4" y="62.5" width="1.2" height="1.4" fill="#dcdce4"/><rect x="278.6" y="54.0" width="0.8" height="1.0" fill="#c0c0c8"/><rect x="280.3" y="75.7" width="0.9" height="1.2" fill="#b8b8c0"/><rect x="278.9" y="79.1" width="1.4" height="1.2" fill="#5a5a64"/><rect x="282.4" y="46.1" width="1.2" height="1.3" fill="#d0d0d8"/><rect x="275.0" y="51.6" width="0.9" height="0.9" fill="#fafafc"/><rect x="278.5" y="57.7" width="0.8" height="1.6" fill="#60606a"/><rect x="278.6" y="65.8" width="1.1" height="1.1" fill="#ffffff"/><rect x="274.8" y="61.0" width="0.8" height="1.4" fill="#ffffff"/><rect x="280.2" y="83.0" width="1.1" height="1.1" fill="#62626c"/><rect x="283.8" y="86.5" width="1.2" height="0.8" fill="#4c4c56"/><rect x="283.4" y="85.2" width="1.3" height="1.0" fill="#62626c"/><rect x="275.7" y="71.3" width="1.0" height="1.5" fill="#c0c0c8"/><rect x="280.2" y="78.5" width="0.9" height="1.1" fill="#62626c"/><rect x="275.9" y="69.2" width="1.4" height="1.1" fill="#dcdce4"/><rect x="275.1" y="77.5" width="1.0" height="0.9" fill="#b8b8c0"/><rect x="283.7" y="85.0" width="0.8" height="1.0" fill="#d0d0d8"/><rect x="284.8" y="88.3" width="1.3" height="1.3" fill="#5a5a64"/><rect x="276.0" y="69.0" width="1.3" height="1.4" fill="#dcdce4"/><rect x="281.6" y="79.3" width="0.9" height="0.9" fill="#4c4c56"/><ellipse cx="291.8" cy="66.8" rx="11.6" ry="25.2" transform="rotate(-5 291.8 66.8)" fill="url(#fc)"/><path d="M297 44 C301.5 49 303.4 58 303.3 68 C303.2 78 301.5 86 296 91" stroke="#686872" stroke-width="1.3" fill="none" opacity="0.75"/><ellipse cx="292.5" cy="72" rx="5" ry="11" fill="#6462b0" opacity="0.5" filter="url(#bl3)"/><path d="M276 71 C278.5 78 282 84 288.5 90.5" stroke="#4a4a54" stroke-width="1" fill="none" opacity="0.55"/></g>
</svg>
</body></html>
